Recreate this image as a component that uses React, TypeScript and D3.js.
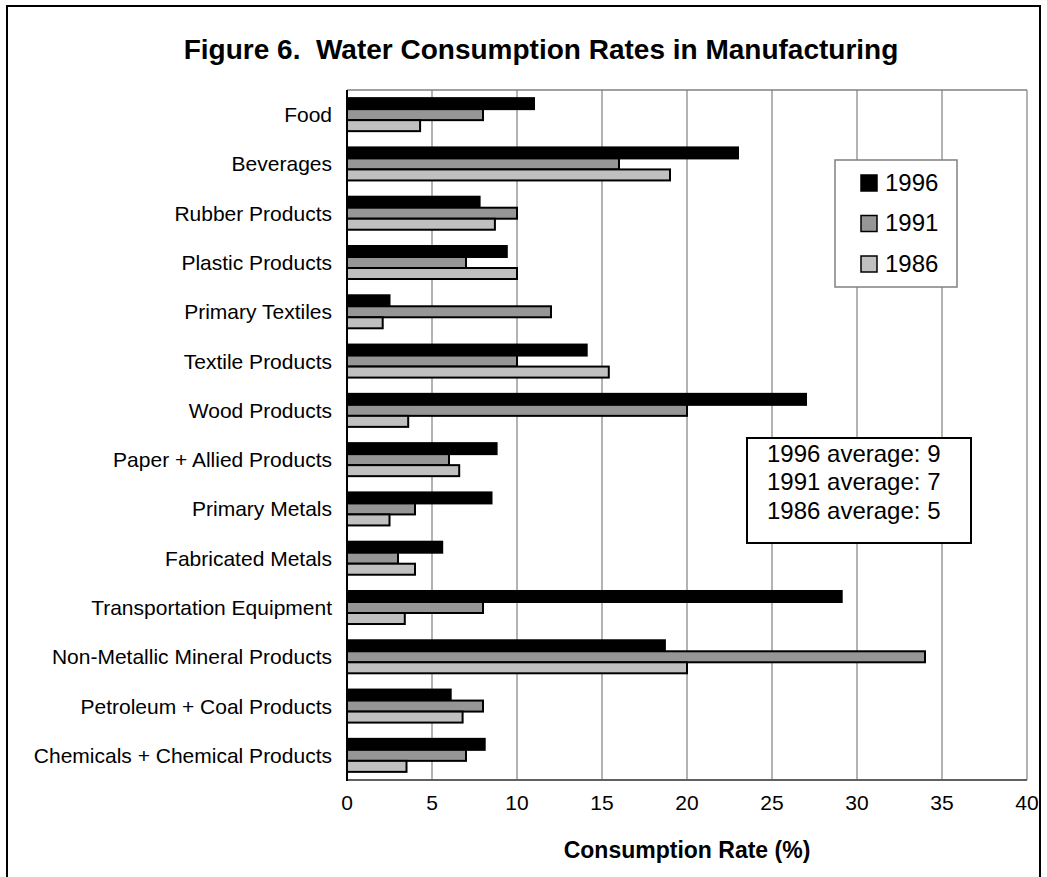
import React, { useEffect, useRef } from 'react';
import * as d3 from 'd3';

// categories, top to bottom
const categories = [
  'Food',
  'Beverages',
  'Rubber Products',
  'Plastic Products',
  'Primary Textiles',
  'Textile Products',
  'Wood Products',
  'Paper + Allied Products',
  'Primary Metals',
  'Fabricated Metals',
  'Transportation Equipment',
  'Non-Metallic Mineral Products',
  'Petroleum + Coal Products',
  'Chemicals + Chemical Products',
];

const years = ['1996', '1991', '1986'];

const values1996 = [11, 23, 7.8, 9.4, 2.5, 14.1, 27, 8.8, 8.5, 5.6, 29.1, 18.7, 6.1, 8.1];
const values1991 = [8, 16, 10, 7, 12, 10, 20, 6, 4, 3, 8, 34, 8, 7];
const values1986 = [4.3, 19, 8.7, 10, 2.1, 15.4, 3.6, 6.6, 2.5, 4, 3.4, 20, 6.8, 3.5];

const xTicks = [0, 5, 10, 15, 20, 25, 30, 35, 40];
const averageLines = ['1996 average: 9', '1991 average: 7', '1986 average: 5'];

const App: React.FC = () => {
  const svgRef = useRef<SVGSVGElement>(null);

  useEffect(() => {
    const svg = d3.select(svgRef.current);
    svg.selectAll('*').remove();

    const W = 1047;
    const H = 877;
    const font = '"Liberation Sans", Arial, sans-serif';
    const plot = { left: 347, right: 1027, top: 90, bottom: 780 };

    svg.attr('width', W).attr('height', H).style('font-family', font);

    svg.append('rect').attr('width', W).attr('height', H).attr('fill', '#fff');

    // outer frame (runs off the bottom of the picture)
    svg.append('rect')
      .attr('x', 7).attr('y', 6)
      .attr('width', 1033).attr('height', 920)
      .attr('fill', 'none').attr('stroke', '#000').attr('stroke-width', 2);

    svg.append('text')
      .attr('x', 541).attr('y', 59)
      .attr('text-anchor', 'middle')
      .style('font-size', '28px').style('font-weight', 'bold')
      .text('Figure 6.  Water Consumption Rates in Manufacturing')
      .style('white-space', 'pre');

    const x = d3.scaleLinear().domain([0, 40]).range([plot.left, plot.right]);

    const y0 = d3.scaleBand()
      .domain(categories)
      .range([plot.top, plot.bottom])
      .paddingInner(0.33)
      .paddingOuter(0.165);

    const y1 = d3.scaleBand()
      .domain(years)
      .range([0, y0.bandwidth()]);

    const color = d3.scaleOrdinal<string, string>()
      .domain(years)
      .range(['#000000', '#969696', '#c0c0c0']);

    // gridlines + plot frame
    const g = svg.append('g');
    g.selectAll('.grid')
      .data(xTicks.slice(1))
      .enter()
      .append('line')
      .attr('x1', d => x(d)).attr('x2', d => x(d))
      .attr('y1', plot.top).attr('y2', plot.bottom)
      .attr('stroke', '#808080').attr('stroke-width', 1.2);

    g.append('line')
      .attr('x1', plot.left).attr('x2', plot.right)
      .attr('y1', plot.top).attr('y2', plot.top)
      .attr('stroke', '#808080').attr('stroke-width', 1.5);

    const series = [values1996, values1991, values1986];

    years.forEach((yr, si) => {
      g.selectAll('.bar-' + yr)
        .data(categories)
        .enter()
        .append('rect')
        .attr('x', x(0))
        .attr('y', d => (y0(d) || 0) + (y1(yr) || 0))
        .attr('width', (d, i) => x(series[si][i]) - x(0))
        .attr('height', y1.bandwidth())
        .attr('fill', color(yr))
        .attr('stroke', '#000')
        .attr('stroke-width', 2);
    });

    // axes lines
    g.append('line')
      .attr('x1', plot.left).attr('x2', plot.right)
      .attr('y1', plot.bottom).attr('y2', plot.bottom)
      .attr('stroke', '#606060').attr('stroke-width', 2);
    g.append('line')
      .attr('x1', plot.left).attr('x2', plot.left)
      .attr('y1', plot.top).attr('y2', plot.bottom + 1)
      .attr('stroke', '#000').attr('stroke-width', 2);

    // category labels
    g.selectAll('.cat')
      .data(categories)
      .enter()
      .append('text')
      .attr('x', 332)
      .attr('y', d => (y0(d) || 0) + y0.bandwidth() / 2)
      .attr('dy', '0.36em')
      .attr('text-anchor', 'end')
      .style('font-size', '21px')
      .text(d => d);

    // x tick labels
    g.selectAll('.xt')
      .data(xTicks)
      .enter()
      .append('text')
      .attr('x', d => x(d))
      .attr('y', 810)
      .attr('text-anchor', 'middle')
      .style('font-size', '21px')
      .text(d => d);

    svg.append('text')
      .attr('x', (plot.left + plot.right) / 2)
      .attr('y', 858)
      .attr('text-anchor', 'middle')
      .style('font-size', '23px').style('font-weight', 'bold')
      .text('Consumption Rate (%)');

    // legend
    const legend = svg.append('g');
    legend.append('rect')
      .attr('x', 835).attr('y', 160)
      .attr('width', 122).attr('height', 127)
      .attr('fill', '#fff').attr('stroke', '#808080').attr('stroke-width', 1.5);

    years.forEach((yr, i) => {
      const cy = 182 + i * 40.5;
      legend.append('rect')
        .attr('x', 861).attr('y', cy - 7)
        .attr('width', 16).attr('height', 16)
        .attr('fill', color(yr)).attr('stroke', '#000').attr('stroke-width', 1.5);
      legend.append('text')
        .attr('x', 885).attr('y', cy)
        .attr('dy', '0.36em')
        .style('font-size', '24px')
        .text(yr);
    });

    // averages box
    const avg = svg.append('g');
    avg.append('rect')
      .attr('x', 747).attr('y', 438)
      .attr('width', 224).attr('height', 105)
      .attr('fill', '#fff').attr('stroke', '#000').attr('stroke-width', 2);

    averageLines.forEach((t, i) => {
      avg.append('text')
        .attr('x', 767).attr('y', 453 + i * 28.5)
        .attr('dy', '0.36em')
        .style('font-size', '24px')
        .text(t);
    });
  }, []);

  return (
    <div style={{ position: 'absolute', left: 0, top: 0 }}>
      <svg ref={svgRef} style={{ display: 'block' }}></svg>
    </div>
  );
};

export default App;
